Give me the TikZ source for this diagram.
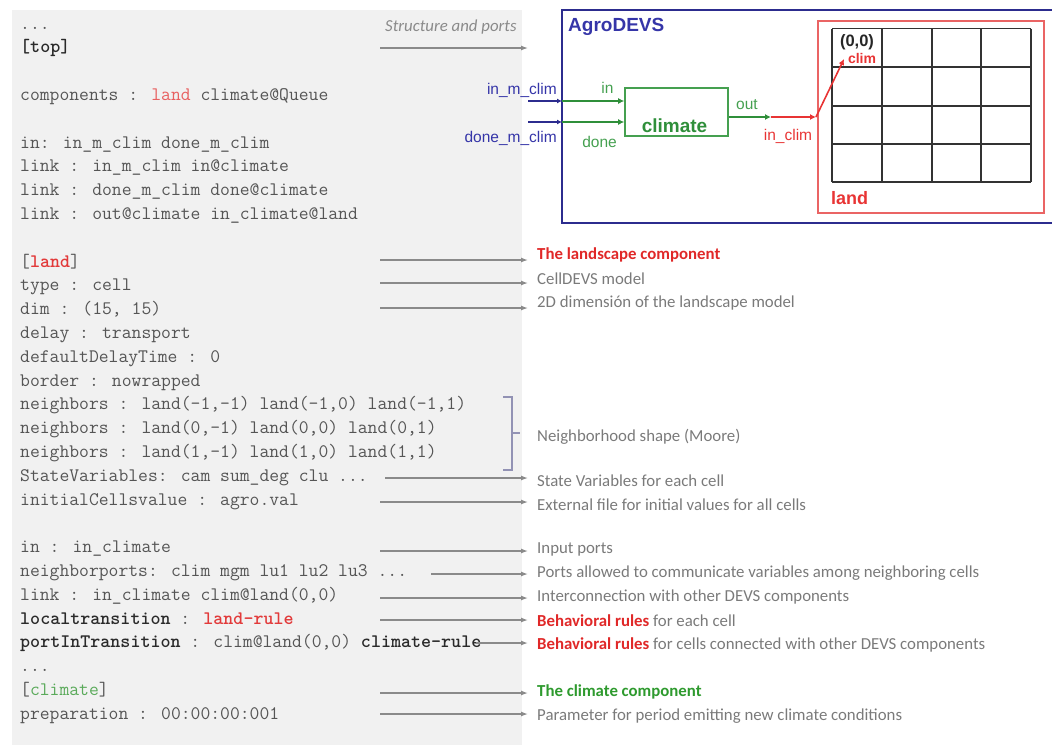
\documentclass[tikz,border=0pt]{standalone}
\usepackage{fontspec}
\usetikzlibrary{arrows.meta}
\newfontfamily\annfont{Carlito}
\newfontfamily\arialf{Liberation Sans}
\definecolor{panelc}{HTML}{F1F1F1}
\definecolor{codegray}{HTML}{555555}
\definecolor{codedark}{HTML}{2A2A2A}
\definecolor{codered}{HTML}{E23A3A}
\definecolor{codelred}{HTML}{E86060}
\definecolor{codegreen}{HTML}{5AAA5A}
\definecolor{anngray}{HTML}{7A7A7A}
\definecolor{arrgray}{HTML}{8A8A8A}
\definecolor{brackc}{HTML}{9292B4}
\definecolor{agroblue}{HTML}{2C2C8E}
\definecolor{txtblue}{HTML}{3535A8}
\definecolor{dgreen}{HTML}{2F8F3A}
\definecolor{lgreen}{HTML}{45A050}
\definecolor{annred}{HTML}{E02828}
\definecolor{annGreen}{HTML}{2E9A2E}
\definecolor{landred}{HTML}{EA6464}
\definecolor{portred}{HTML}{E83434}
\newcommand\cfont{\ttfamily\fontsize{19.1}{22}\selectfont}
\newcommand\annsize{\fontsize{16.8}{19}\selectfont}
\newcommand\codeline[3]{\node[codetxt] (#1) at (20,{29+23.8*#2}) {#3};}
\newcommand\cb[1]{\textbf{\color{codedark}#1}}
\begin{document}
\begin{tikzpicture}[x=1pt,y=-1pt,
  codetxt/.style={anchor=base west,inner sep=0pt,font=\cfont,text=codegray},
  ann/.style={anchor=west,inner sep=0pt,font=\annfont\annsize,text=anngray},
  pointer/.style={draw=arrgray,line width=1.3pt,-{Latex[length=7pt,width=5pt]}},
  bracketline/.style={draw=brackc,line width=1.1pt},
  agroline/.style={draw=agroblue,line width=2pt},
  bluewire/.style={draw=agroblue,line width=1.8pt,-{Latex[length=5pt,width=5pt]}},
  greenwire/.style={draw=dgreen,line width=1.8pt,-{Latex[length=6pt,width=6pt]}},
  redwire/.style={draw=portred,line width=1.6pt,-{Latex[length=6pt,width=6pt]}},
  climbox/.style={draw=lgreen,line width=1.6pt,minimum width=103pt,minimum height=48pt,inner sep=0pt},
  landbox/.style={draw=landred,line width=2pt,minimum width=226pt,minimum height=192pt,inner sep=0pt},
  gridline/.style={draw=black!80,line width=1.2pt},
  dlabel/.style={inner sep=0pt,font=\arialf\fontsize{15.5}{18}\selectfont},
]
\useasboundingbox (0,0) rectangle (1052,747);
\fill[panelc] (12,10) rectangle (522,745);

% ---------- code ----------
\codeline{c0}{0}{...}
\codeline{c1}{1}{\cb{[top]}}
\codeline{c3}{3}{components : {\color{codelred}land} climate@Queue}
\codeline{c5}{5}{in: in\_m\_clim done\_m\_clim}
\codeline{c6}{6}{link : in\_m\_clim in@climate}
\codeline{c7}{7}{link : done\_m\_clim done@climate}
\codeline{c8}{8}{link : out@climate in\_climate@land}
\codeline{c10}{10}{[\textbf{\color{codered}land}]}
\codeline{c11}{11}{type : cell}
\codeline{c12}{12}{dim : (15, 15)}
\codeline{c13}{13}{delay : transport}
\codeline{c14}{14}{defaultDelayTime : 0}
\codeline{c15}{15}{border : nowrapped}
\codeline{c16}{16}{neighbors : land(-1,-1) land(-1,0) land(-1,1)}
\codeline{c17}{17}{neighbors : land(0,-1) land(0,0) land(0,1)}
\codeline{c18}{18}{neighbors : land(1,-1) land(1,0) land(1,1)}
\codeline{c19}{19}{StateVariables: cam sum\_deg clu ...}
\codeline{c20}{20}{initialCellsvalue : agro.val}
\codeline{c22}{22}{in : in\_climate}
\codeline{c23}{23}{neighborports: clim mgm lu1 lu2 lu3 ...}
\codeline{c24}{24}{link : in\_climate clim@land(0,0)}
\codeline{c25}{25}{\cb{localtransition} : \textbf{\color{codered}land-rule}}
\codeline{c26}{26}{\cb{portInTransition} : clim@land(0,0) \cb{climate-rule}}
\codeline{c27}{27}{...}
\codeline{c28}{28}{[{\color{codegreen}climate}]}
\codeline{c29}{29}{preparation : 00:00:00:001}

% ---------- annotations ----------
\node[ann,font=\annfont\itshape\annsize,text=arrgray] (a0) at (385,27) {Structure and ports};
\node[ann,text=annred,font=\annfont\bfseries\annsize] (a10) at (537,255) {The landscape component};
\node[ann] (a11) at (537,279) {CellDEVS model};
\node[ann] (a12) at (537,303) {2D dimensión of the landscape model};
\node[ann] (a16) at (537,437) {Neighborhood shape (Moore)};
\node[ann] (a19) at (537,481) {State Variables for each cell};
\node[ann] (a20) at (537,505) {External file for initial values for all cells};
\node[ann] (a22) at (537,549) {Input ports};
\node[ann] (a23) at (537,573) {Ports allowed to communicate variables among neighboring cells};
\node[ann] (a24) at (537,597) {Interconnection with other DEVS components};
\node[ann] (a25) at (537,621) {{\bfseries\color{annred}Behavioral rules} for each cell};
\node[ann] (a26) at (537,645) {{\bfseries\color{annred}Behavioral rules} for cells connected with other DEVS components};
\node[ann,text=annGreen,font=\annfont\bfseries\annsize] (a28) at (537,692) {The climate component};
\node[ann] (a29) at (537,716) {Parameter for period emitting new climate conditions};

% ---------- pointers ----------
\foreach \n/\xs/\yy in {p0/380/48, p10/380/260, p11/380/283, p12/380/308, p19/385/478, p20/380/502,
  p22/380/551, p23/431/574, p24/380/598, p25/380/620, p26/476/643, p28/380/693, p29/380/714}{
  \coordinate (\n s) at (\xs,\yy);
  \coordinate (\n e) at (528,\yy);
  \draw[pointer] (\n s) -- (\n e);
}

% bracket
\coordinate (bt) at (503,397);
\coordinate (btr) at (512,397);
\coordinate (bbr) at (512,470);
\coordinate (bb) at (503,470);
\coordinate (bm) at (512,433);
\coordinate (bmt) at (520,433);
\draw[bracketline] (bt) -- (btr) -- (bbr) -- (bb);
\draw[bracketline] (bm) -- (bmt);

% ---------- AgroDEVS diagram ----------
\coordinate (agTR) at (1056,10);
\coordinate (agTL) at (562,10);
\coordinate (agBL) at (562,223);
\coordinate (agBR) at (1056,223);
\draw[agroline] (agTR) -- (agTL) -- (agBL) -- (agBR);
\node[anchor=west,inner sep=0pt,font=\arialf\bfseries\fontsize{19}{22}\selectfont,text=txtblue] (agtitle) at (568,27) {AgroDEVS};

\node[climbox] (climate) at (676.5,112) {};
\node[inner sep=0pt,font=\arialf\bfseries\fontsize{19}{22}\selectfont,text=dgreen] (climlbl) at (674.5,126) {climate};

\node[landbox] (land) at (930.5,117) {};
\node[anchor=west,inner sep=0pt,font=\arialf\bfseries\fontsize{18}{22}\selectfont,text=portred] (landlbl) at (831,198) {land};

% grid
\foreach \xx in {832,882,932,981,1031}{\draw[gridline] (\xx,28.5) -- (\xx,182);}
\foreach \yy in {28.5,67,106,144,182}{\draw[gridline] (832,\yy) -- (1031,\yy);}
\node[inner sep=0pt,font=\arialf\bfseries\fontsize{16.5}{18}\selectfont,text=black!85] (cell00) at (857,42) {(0,0)};
\node[inner sep=0pt,font=\arialf\bfseries\fontsize{14}{16}\selectfont,text=portred] (climport) at (862,58) {clim};

% port labels
\node[dlabel,anchor=east,text=txtblue] (lin) at (557,90) {in\_m\_clim};
\node[dlabel,anchor=east,text=txtblue] (ldone) at (557,138) {done\_m\_clim};
\node[dlabel,text=lgreen] (pin) at (607.5,88) {in};
\node[dlabel,text=lgreen] (pdone) at (599.5,142) {done};
\node[dlabel,text=lgreen] (pout) at (747,105) {out};
\node[dlabel,text=portred] (pinclim) at (788,136) {in\_clim};

% wires
\coordinate (w1a) at (528,101);
\coordinate (w1b) at (562,101);
\coordinate (w2a) at (528,122);
\coordinate (w2b) at (562,122);
\draw[bluewire] (w1a) -- (w1b);
\draw[bluewire] (w2a) -- (w2b);
\draw[greenwire] (w1b) -- (climate.west |- w1b);
\draw[greenwire] (w2b) -- (climate.west |- w2b);
\coordinate (outj) at (771,117);
\coordinate (inclimj) at (816,117);
\coordinate (climtip) at (844,59);
\draw[greenwire] (climate.east |- outj) -- (outj);
\draw[redwire] (outj) -- (inclimj);
\draw[redwire] (inclimj) -- (climtip);
\end{tikzpicture}
\end{document}
